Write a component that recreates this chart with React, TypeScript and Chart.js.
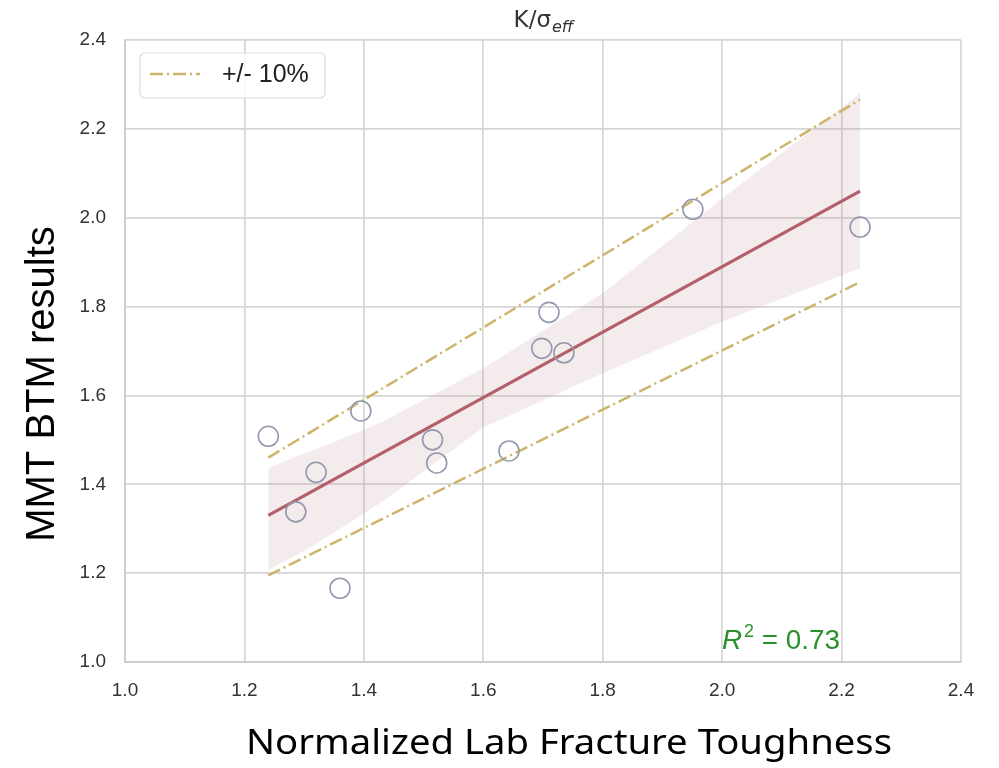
import React, { useEffect, useRef } from "react";
import { Chart, registerables } from "chart.js";

Chart.register(...registerables);

// Scatter data (Normalized Lab Fracture Toughness vs MMT BTM results)
const labX = [1.24, 1.286, 1.32, 1.36, 1.395, 1.515, 1.522, 1.643, 1.698, 1.71, 1.735, 1.951, 2.231];
const btmY = [1.508, 1.338, 1.427, 1.166, 1.565, 1.5, 1.448, 1.475, 1.706, 1.787, 1.696, 2.019, 1.979];

// Regression line endpoints
const fitX = [1.24, 2.231];
const fitY = [1.33, 2.06];

// +/- 10% lines
const tolX = [1.24, 2.231];
const tolUpper = [1.46, 2.266];
const tolLower = [1.195, 1.855];

// Confidence band
const bandX = [1.24, 1.3, 1.36, 1.43, 1.6, 1.8, 2.0, 2.231];
const bandUpper = [1.436, 1.47, 1.5, 1.54, 1.661, 1.83, 2.043, 2.28];
const bandLower = [1.207, 1.25, 1.3, 1.36, 1.528, 1.65, 1.766, 1.886];

// Axis ticks
const xTicks = [1.0, 1.2, 1.4, 1.6, 1.8, 2.0, 2.2, 2.4];
const yTicks = [1.0, 1.2, 1.4, 1.6, 1.8, 2.0, 2.2, 2.4];

const titleMain = "K/σ";
const titleSub = "eff";
const xTitle = "Normalized Lab Fracture Toughness";
const yTitle = "MMT BTM results";
const legendLabel = "+/- 10%";
const r2Value = "0.73";

const DASH = [13, 4, 2, 4];
const TOL_COLOR = "#ccb56b";

const pts = (xs: number[], ys: number[]) => xs.map((x, i) => ({ x, y: ys[i] }));

const overlayPlugin = {
  id: "overlay",
  afterDraw(chart: any) {
    const ctx: CanvasRenderingContext2D = chart.ctx;
    const area = chart.chartArea;
    ctx.save();

    // Title K/σ_eff
    ctx.fillStyle = "#333333";
    ctx.textBaseline = "alphabetic";
    ctx.font = "23px 'DejaVu Sans'";
    const mainW = ctx.measureText(titleMain).width;
    ctx.font = "italic 16px 'DejaVu Sans'";
    const subW = ctx.measureText(titleSub).width;
    const tx = (area.left + area.right) / 2 - (mainW + subW) / 2;
    ctx.font = "23px 'DejaVu Sans'";
    ctx.textAlign = "left";
    ctx.fillText(titleMain, tx, 27);
    ctx.font = "italic 16px 'DejaVu Sans'";
    ctx.fillText(titleSub, tx + mainW + 1, 32);

    // Y axis title
    ctx.save();
    ctx.translate(54, (area.top + area.bottom) / 2 + 33);
    ctx.rotate(-Math.PI / 2);
    ctx.font = "40px 'Liberation Sans'";
    ctx.fillStyle = "#000000";
    ctx.textAlign = "center";
    ctx.fillText(yTitle, 0, 0);
    ctx.restore();

    // X axis title (fit to width)
    ctx.save();
    ctx.font = "34px 'Noto Sans'";
    const xw = ctx.measureText(xTitle).width;
    const target = 646;
    ctx.translate(246, 754);
    ctx.scale(target / xw, 1);
    ctx.fillStyle = "#000000";
    ctx.textAlign = "left";
    ctx.fillText(xTitle, 0, 0);
    ctx.restore();

    // R^2 label
    ctx.save();
    ctx.fillStyle = "#2a8f2a";
    ctx.font = "italic 28px 'Liberation Sans'";
    const rW = ctx.measureText("R").width;
    ctx.font = "18px 'Liberation Sans'";
    const sW = ctx.measureText("2").width;
    ctx.font = "28px 'Liberation Sans'";
    const eqText = " = " + r2Value;
    const eW = ctx.measureText(eqText).width;
    const totalW = rW + sW + 2 + eW;
    const rScale = 118 / totalW;
    ctx.translate(722, 649);
    ctx.scale(rScale, 1);
    ctx.font = "italic 28px 'Liberation Sans'";
    ctx.fillText("R", 0, 0);
    ctx.font = "18px 'Liberation Sans'";
    ctx.fillText("2", rW + 2, -12);
    ctx.font = "28px 'Liberation Sans'";
    ctx.fillText(eqText, rW + 2 + sW, 0);
    ctx.restore();

    // Legend
    const lx = 140, ly = 53, lw = 185, lh = 45, r = 5;
    ctx.beginPath();
    ctx.moveTo(lx + r, ly);
    ctx.arcTo(lx + lw, ly, lx + lw, ly + lh, r);
    ctx.arcTo(lx + lw, ly + lh, lx, ly + lh, r);
    ctx.arcTo(lx, ly + lh, lx, ly, r);
    ctx.arcTo(lx, ly, lx + lw, ly, r);
    ctx.closePath();
    ctx.fillStyle = "rgba(255,255,255,0.85)";
    ctx.fill();
    ctx.strokeStyle = "#dddddd";
    ctx.lineWidth = 1.2;
    ctx.stroke();

    ctx.beginPath();
    ctx.setLineDash(DASH);
    ctx.strokeStyle = TOL_COLOR;
    ctx.lineWidth = 2.5;
    ctx.moveTo(150, 74);
    ctx.lineTo(200, 74);
    ctx.stroke();
    ctx.setLineDash([]);

    ctx.fillStyle = "#222222";
    ctx.font = "25px 'Liberation Sans'";
    ctx.textAlign = "left";
    ctx.textBaseline = "middle";
    ctx.fillText(legendLabel, 222, 75);

    ctx.restore();
  },
};

export default function App() {
  const canvasRef = useRef<HTMLCanvasElement | null>(null);

  useEffect(() => {
    if (!canvasRef.current) return;
    const chart = new Chart(canvasRef.current, {
      type: "scatter",
      data: {
        datasets: [
          {
            label: "data",
            data: pts(labX, btmY),
            pointRadius: 10,
            pointHoverRadius: 10,
            pointBackgroundColor: "rgba(255,255,255,0)",
            pointBorderColor: "#9398ad",
            pointBorderWidth: 1.6,
            showLine: false,
            order: 0,
          },
          {
            label: "fit",
            type: "line",
            data: pts(fitX, fitY),
            borderColor: "#b3606b",
            borderWidth: 3.2,
            pointRadius: 0,
            fill: false,
            order: 1,
          },
          {
            label: "tolUpper",
            type: "line",
            data: pts(tolX, tolUpper),
            borderColor: TOL_COLOR,
            borderWidth: 2.5,
            borderDash: DASH,
            pointRadius: 0,
            fill: false,
            order: 2,
          },
          {
            label: "tolLower",
            type: "line",
            data: pts(tolX, tolLower),
            borderColor: TOL_COLOR,
            borderWidth: 2.5,
            borderDash: DASH,
            pointRadius: 0,
            fill: false,
            order: 2,
          },
          {
            label: "bandUpper",
            type: "line",
            data: pts(bandX, bandUpper),
            borderWidth: 0,
            borderColor: "rgba(0,0,0,0)",
            backgroundColor: "rgba(183,120,130,0.15)",
            pointRadius: 0,
            fill: "+1",
            order: 3,
          },
          {
            label: "bandLower",
            type: "line",
            data: pts(bandX, bandLower),
            borderWidth: 0,
            borderColor: "rgba(0,0,0,0)",
            pointRadius: 0,
            fill: false,
            order: 3,
          },
        ],
      },
      options: {
        responsive: false,
        animation: false,
        events: [],
        layout: { padding: { top: 40, right: 38, left: 0, bottom: 0 } },
        plugins: {
          legend: { display: false },
          tooltip: { enabled: false },
          title: { display: false },
        },
        scales: {
          x: {
            type: "linear",
            min: 1.0,
            max: 2.4,
            afterFit: (s: any) => {
              s.height = 106;
            },
            afterBuildTicks: (s: any) => {
              s.ticks = xTicks.map((v) => ({ value: v }));
            },
            ticks: {
              padding: 17,
              color: "#333333",
              font: { family: "'Liberation Sans'", size: 19 },
              callback: (v: any) => Number(v).toFixed(1),
              maxRotation: 0,
            },
            grid: { color: "#d6d6d6", lineWidth: 1.7, drawTicks: false },
            border: { color: "#cccccc", width: 1.7 },
          },
          y: {
            type: "linear",
            min: 1.0,
            max: 2.4,
            afterFit: (s: any) => {
              s.width = 125;
            },
            afterBuildTicks: (s: any) => {
              s.ticks = yTicks.map((v) => ({ value: v }));
            },
            ticks: {
              padding: 19,
              color: "#333333",
              font: { family: "'Liberation Sans'", size: 19 },
              callback: (v: any) => Number(v).toFixed(1),
            },
            grid: { color: "#d6d6d6", lineWidth: 1.7, drawTicks: false },
            border: { color: "#cccccc", width: 1.7 },
          },
        },
      },
      plugins: [overlayPlugin],
    });
    return () => chart.destroy();
  }, []);

  return (
    <div style={{ position: "absolute", left: 0, top: 0, width: 999, height: 768, background: "#ffffff" }}>
      <canvas ref={canvasRef} width={999} height={768} style={{ display: "block", width: 999, height: 768 }} />
    </div>
  );
}
